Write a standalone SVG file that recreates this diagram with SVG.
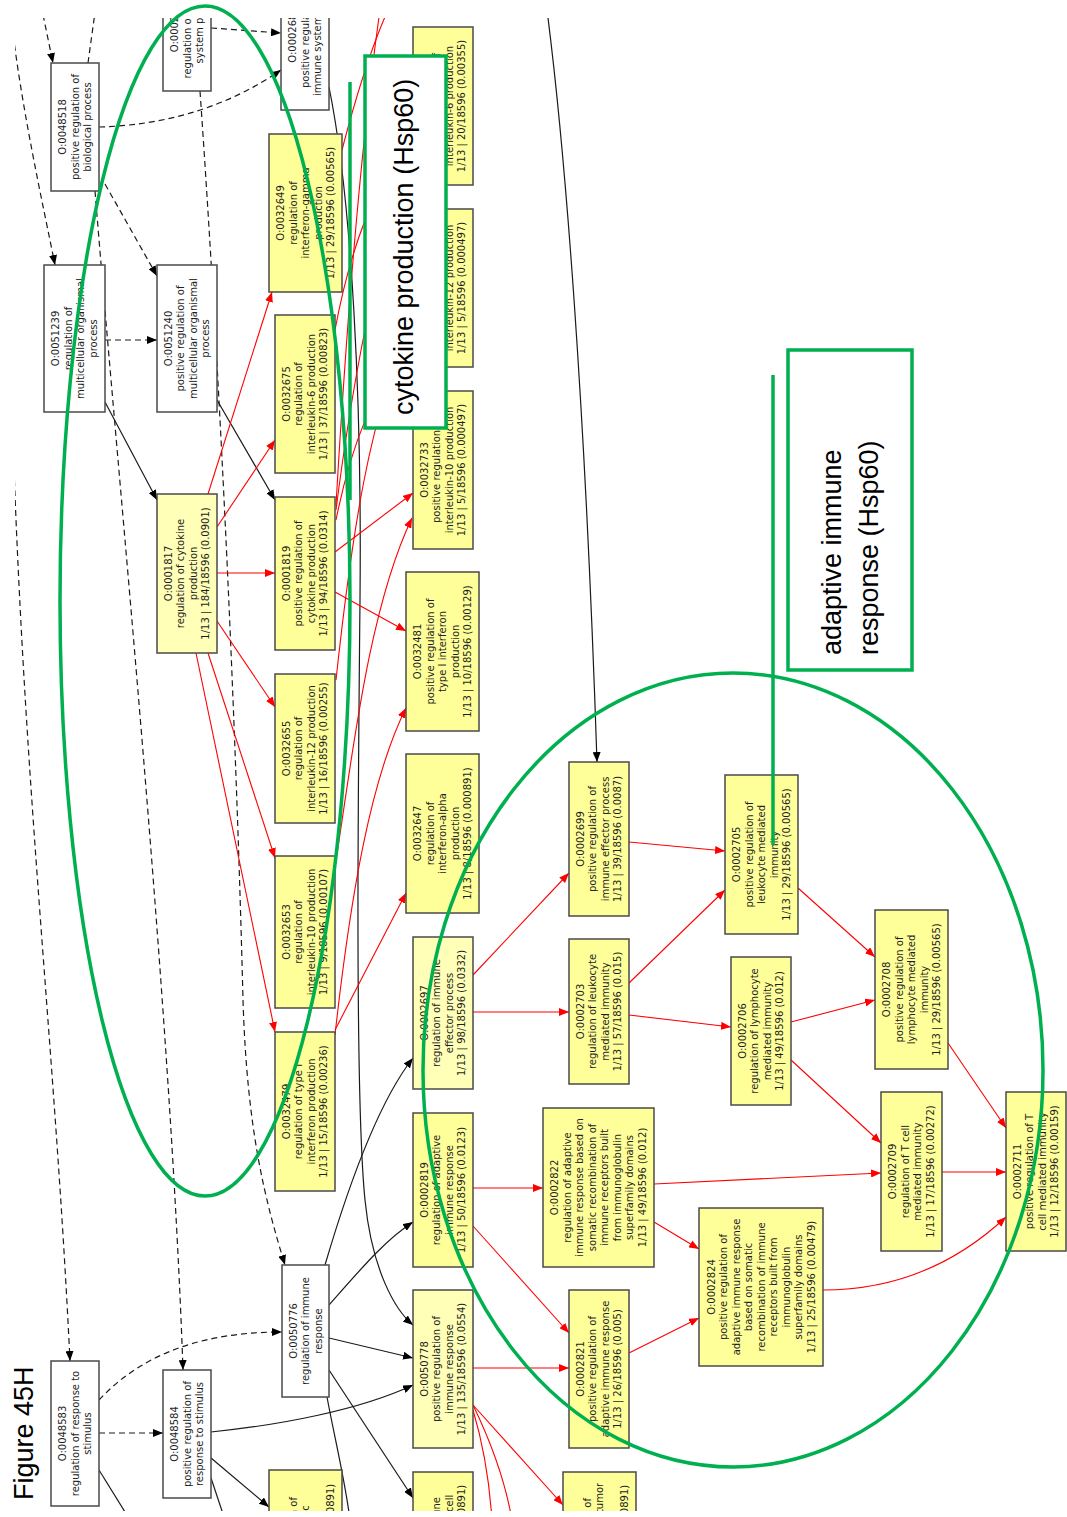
<svg xmlns="http://www.w3.org/2000/svg" width="1067" height="1517" viewBox="0 0 1067 1517">
<style>
.n rect{stroke:#4a4a4a;stroke-width:1.5}
.y rect{fill:#ffff99}
.p rect{fill:#ffffb8}
.w rect{fill:#ffffff}
.n text{font-family:"DejaVu Sans",sans-serif;font-size:10px;fill:#1e1e1e;text-anchor:middle}
#edges path{fill:none}
.s{stroke:#1a1a1a;stroke-width:1.2}
.d{stroke:#1a1a1a;stroke-width:1.2;stroke-dasharray:6 4}
.r{stroke:#ff0000;stroke-width:1.1}
.g{fill:none;stroke:#00b050;stroke-width:3.5}
.gb{fill:#ffffff;stroke:#00b050;stroke-width:3.5}
.lbl{font-family:"Liberation Sans",Arial,sans-serif;font-size:27px;fill:#000}
</style>
<defs>
<marker id="ab" markerWidth="10" markerHeight="8" refX="10" refY="4" orient="auto" markerUnits="userSpaceOnUse"><path d="M0,0 L10,4 L0,8 z" fill="#000"/></marker>
<marker id="ar" markerWidth="10" markerHeight="8" refX="10" refY="4" orient="auto" markerUnits="userSpaceOnUse"><path d="M0,0 L10,4 L0,8 z" fill="#ff0000"/></marker>
<clipPath id="frame"><rect x="15" y="18" width="1052" height="1493"/></clipPath>
</defs>

<g clip-path="url(#frame)">
<!-- connectors -->
<g id="edges">
<!-- dashed: relations from unannotated ancestors -->
<path class="d" d="M41,5 L53,63" marker-end="url(#ab)"/>
<path class="d" d="M88,63 L96,5"/>
<path class="d" d="M12,25 C22,110 42,200 55,265" marker-end="url(#ab)"/>
<path class="d" d="M13,440 C25,800 55,1050 70,1361" marker-end="url(#ab)"/>
<path class="d" d="M95,191 C120,500 170,1000 183,1370" marker-end="url(#ab)"/>
<path class="d" d="M105,184 L157,276" marker-end="url(#ab)"/>
<path class="d" d="M105,340 L157,340" marker-end="url(#ab)"/>
<path class="d" d="M99,127 C170,125 230,105 281,70" marker-end="url(#ab)"/>
<path class="d" d="M211,28 L281,33" marker-end="url(#ab)"/>
<path class="d" d="M200,91 C225,450 238,800 243,1000 C247,1130 265,1200 285,1265" marker-end="url(#ab)"/>
<path class="d" d="M99,1433 L163,1433" marker-end="url(#ab)"/>
<path class="d" d="M99,1400 C150,1345 220,1332 282,1332" marker-end="url(#ab)"/>
<!-- solid black -->
<path class="s" d="M105,402 L157,500" marker-end="url(#ab)"/>
<path class="s" d="M217,400 L275,500" marker-end="url(#ab)"/>
<path class="s" d="M329,87 C352,200 362,400 360,600 C358,800 355,1100 365,1200 C372,1270 395,1310 413,1325" marker-end="url(#ab)"/>
<path class="s" d="M547,10 C565,150 585,400 597,762" marker-end="url(#ab)"/>
<path class="s" d="M325,1265 C350,1180 380,1100 413,1058" marker-end="url(#ab)"/>
<path class="s" d="M329,1305 C360,1270 385,1240 413,1222" marker-end="url(#ab)"/>
<path class="s" d="M329,1338 L413,1358" marker-end="url(#ab)"/>
<path class="s" d="M329,1370 L413,1498" marker-end="url(#ab)"/>
<path class="s" d="M327,1397 C335,1440 345,1480 350,1520"/>
<path class="s" d="M211,1432 C280,1425 360,1410 413,1385" marker-end="url(#ab)"/>
<path class="s" d="M211,1458 L269,1507" marker-end="url(#ab)"/>
<path class="s" d="M211,1478 L225,1520"/>
<path class="s" d="M99,1470 L130,1520"/>
<!-- red: significant path -->
<path class="r" d="M208,494 L272,292" marker-end="url(#ar)"/>
<path class="r" d="M217,527 L275,440" marker-end="url(#ar)"/>
<path class="r" d="M217,573 L275,573" marker-end="url(#ar)"/>
<path class="r" d="M217,621 L275,707" marker-end="url(#ar)"/>
<path class="r" d="M208,653 L275,858" marker-end="url(#ar)"/>
<path class="r" d="M196,653 L275,1032" marker-end="url(#ar)"/>
<path class="r" d="M342,150 C355,100 370,50 388,10"/>
<path class="r" d="M336,505 C345,350 360,150 380,10"/>
<path class="r" d="M335,330 C350,250 375,180 413,140" marker-end="url(#ar)"/>
<path class="r" d="M336,510 C350,400 375,250 413,160" marker-end="url(#ar)"/>
<path class="r" d="M336,520 C350,450 375,380 413,345" marker-end="url(#ar)"/>
<path class="r" d="M336,680 C350,550 370,400 413,330" marker-end="url(#ar)"/>
<path class="r" d="M335,552 L413,493" marker-end="url(#ar)"/>
<path class="r" d="M335,592 L406,631" marker-end="url(#ar)"/>
<path class="r" d="M336,860 C352,760 368,610 412,518" marker-end="url(#ar)"/>
<path class="r" d="M335,1035 C350,900 370,780 406,708" marker-end="url(#ar)"/>
<path class="r" d="M335,1030 L406,893" marker-end="url(#ar)"/>
<path class="r" d="M473,975 L569,873" marker-end="url(#ar)"/>
<path class="r" d="M473,1012 L569,1012" marker-end="url(#ar)"/>
<path class="r" d="M629,842 L725,851" marker-end="url(#ar)"/>
<path class="r" d="M629,983 L725,890" marker-end="url(#ar)"/>
<path class="r" d="M629,1015 L731,1027" marker-end="url(#ar)"/>
<path class="r" d="M798,888 L875,957" marker-end="url(#ar)"/>
<path class="r" d="M791,1022 L875,1000" marker-end="url(#ar)"/>
<path class="r" d="M791,1060 L881,1143" marker-end="url(#ar)"/>
<path class="r" d="M948,1043 L1006,1128" marker-end="url(#ar)"/>
<path class="r" d="M942,1172 L1006,1172" marker-end="url(#ar)"/>
<path class="r" d="M654,1184 L881,1173" marker-end="url(#ar)"/>
<path class="r" d="M654,1222 L699,1249" marker-end="url(#ar)"/>
<path class="r" d="M823,1290 C900,1290 960,1260 1006,1217" marker-end="url(#ar)"/>
<path class="r" d="M629,1353 L699,1318" marker-end="url(#ar)"/>
<path class="r" d="M473,1188 L543,1188" marker-end="url(#ar)"/>
<path class="r" d="M473,1226 L569,1333" marker-end="url(#ar)"/>
<path class="r" d="M473,1368 L569,1368" marker-end="url(#ar)"/>
<path class="r" d="M473,1405 L563,1505" marker-end="url(#ar)"/>
<path class="r" d="M473,1405 C490,1440 505,1480 512,1520"/>
<path class="r" d="M473,1410 C485,1450 490,1490 492,1520"/>
</g>

<!-- GO term nodes, drawn rotated so their labels read upwards -->
<g id="n0048518" class="n w" transform="translate(75,127) rotate(-90)"><rect x="-64" y="-24" width="128" height="48"/><text y="-9">O:0048518</text><text y="3.5">positive regulation of</text><text y="16">biological process</text></g>
<g id="n0002682" class="n w" transform="translate(187,24.5) rotate(-90)"><rect x="-66.5" y="-24" width="133" height="48"/><text y="-9">O:0002682</text><text y="3.5">regulation of immune</text><text y="16">system process</text></g>
<g id="n0002684" class="n w" transform="translate(305,35) rotate(-90)"><rect x="-75" y="-24" width="150" height="48"/><text y="-9">O:0002684</text><text y="3.5">positive regulation of</text><text y="16">immune system process</text></g>
<g id="n0051239" class="n w" transform="translate(74.5,338.5) rotate(-90)"><rect x="-73.5" y="-30.5" width="147" height="61"/><text y="-15.25">O:0051239</text><text y="-2.75">regulation of</text><text y="9.75">multicellular organismal</text><text y="22.25">process</text></g>
<g id="n0051240" class="n w" transform="translate(187,338.5) rotate(-90)"><rect x="-73.5" y="-30" width="147" height="60"/><text y="-15.25">O:0051240</text><text y="-2.75">positive regulation of</text><text y="9.75">multicellular organismal</text><text y="22.25">process</text></g>
<g id="n0001817" class="n p" transform="translate(187,573.5) rotate(-90)"><rect x="-79.5" y="-30" width="159" height="60"/><text y="-15.25">O:0001817</text><text y="-2.75">regulation of cytokine</text><text y="9.75">production</text><text y="22.25">1/13 | 184/18596 (0.0901)</text></g>
<g id="n0032649" class="n y" transform="translate(305.5,213) rotate(-90)"><rect x="-79" y="-36.5" width="158" height="73"/><text y="-21.5">O:0032649</text><text y="-9">regulation of</text><text y="3.5">interferon-gamma</text><text y="16">production</text><text y="28.5">1/13 | 29/18596 (0.00565)</text></g>
<g id="n0032675" class="n y" transform="translate(305,394) rotate(-90)"><rect x="-79" y="-30" width="158" height="60"/><text y="-15.25">O:0032675</text><text y="-2.75">regulation of</text><text y="9.75">interleukin-6 production</text><text y="22.25">1/13 | 37/18596 (0.00823)</text></g>
<g id="n0001819" class="n y" transform="translate(305,573.5) rotate(-90)"><rect x="-76.5" y="-30" width="153" height="60"/><text y="-15.25">O:0001819</text><text y="-2.75">positive regulation of</text><text y="9.75">cytokine production</text><text y="22.25">1/13 | 94/18596 (0.0314)</text></g>
<g id="n0032655" class="n y" transform="translate(305,748.5) rotate(-90)"><rect x="-74.5" y="-30" width="149" height="60"/><text y="-15.25">O:0032655</text><text y="-2.75">regulation of</text><text y="9.75">interleukin-12 production</text><text y="22.25">1/13 | 16/18596 (0.00255)</text></g>
<g id="n0032653" class="n y" transform="translate(305,932) rotate(-90)"><rect x="-76" y="-30" width="152" height="60"/><text y="-15.25">O:0032653</text><text y="-2.75">regulation of</text><text y="9.75">interleukin-10 production</text><text y="22.25">1/13 | 9/18596 (0.00107)</text></g>
<g id="n0032479" class="n y" transform="translate(305,1111.5) rotate(-90)"><rect x="-79.5" y="-30" width="159" height="60"/><text y="-15.25">O:0032479</text><text y="-2.75">regulation of type I</text><text y="9.75">interferon production</text><text y="22.25">1/13 | 15/18596 (0.00236)</text></g>
<g id="n0032755" class="n y" transform="translate(443,106) rotate(-90)"><rect x="-79" y="-30" width="158" height="60"/><text y="-15.25">O:0032755</text><text y="-2.75">positive regulation of</text><text y="9.75">interleukin-6 production</text><text y="22.25">1/13 | 20/18596 (0.00355)</text></g>
<g id="n0032735" class="n y" transform="translate(443,288) rotate(-90)"><rect x="-79" y="-30" width="158" height="60"/><text y="-15.25">O:0032735</text><text y="-2.75">positive regulation of</text><text y="9.75">interleukin-12 production</text><text y="22.25">1/13 | 5/18596 (0.000497)</text></g>
<g id="n0032733" class="n y" transform="translate(443,470) rotate(-90)"><rect x="-79" y="-30" width="158" height="60"/><text y="-15.25">O:0032733</text><text y="-2.75">positive regulation of</text><text y="9.75">interleukin-10 production</text><text y="22.25">1/13 | 5/18596 (0.000497)</text></g>
<g id="n0032481" class="n y" transform="translate(442.5,651.5) rotate(-90)"><rect x="-79.5" y="-36.5" width="159" height="73"/><text y="-21.5">O:0032481</text><text y="-9">positive regulation of</text><text y="3.5">type I interferon</text><text y="16">production</text><text y="28.5">1/13 | 10/18596 (0.00129)</text></g>
<g id="n0032647" class="n y" transform="translate(442.5,833.5) rotate(-90)"><rect x="-79.5" y="-36.5" width="159" height="73"/><text y="-21.5">O:0032647</text><text y="-9">regulation of</text><text y="3.5">interferon-alpha</text><text y="16">production</text><text y="28.5">1/13 | 8/18596 (0.000891)</text></g>
<g id="n0002697" class="n p" transform="translate(443,1013) rotate(-90)"><rect x="-76" y="-30" width="152" height="60"/><text y="-15.25">O:0002697</text><text y="-2.75">regulation of immune</text><text y="9.75">effector process</text><text y="22.25">1/13 | 98/18596 (0.0332)</text></g>
<g id="n0002819" class="n y" transform="translate(443,1190) rotate(-90)"><rect x="-77" y="-30" width="154" height="60"/><text y="-15.25">O:0002819</text><text y="-2.75">regulation of adaptive</text><text y="9.75">immune response</text><text y="22.25">1/13 | 50/18596 (0.0123)</text></g>
<g id="n0050778" class="n p" transform="translate(443,1369) rotate(-90)"><rect x="-79" y="-30" width="158" height="60"/><text y="-15.25">O:0050778</text><text y="-2.75">positive regulation of</text><text y="9.75">immune response</text><text y="22.25">1/13 | 135/18596 (0.0554)</text></g>
<g id="n0050776" class="n w" transform="translate(305.5,1331) rotate(-90)"><rect x="-66" y="-23.5" width="132" height="47"/><text y="-9">O:0050776</text><text y="3.5">regulation of immune</text><text y="16">response</text></g>
<g id="n0048583" class="n w" transform="translate(75,1433.5) rotate(-90)"><rect x="-72.5" y="-24" width="145" height="48"/><text y="-9">O:0048583</text><text y="3.5">regulation of response to</text><text y="16">stimulus</text></g>
<g id="n0048584" class="n w" transform="translate(187,1434) rotate(-90)"><rect x="-64" y="-24" width="128" height="48"/><text y="-9">O:0048584</text><text y="3.5">positive regulation of</text><text y="16">response to stimulus</text></g>
<g id="n0002699" class="n y" transform="translate(599,839) rotate(-90)"><rect x="-77" y="-30" width="154" height="60"/><text y="-15.25">O:0002699</text><text y="-2.75">positive regulation of</text><text y="9.75">immune effector process</text><text y="22.25">1/13 | 39/18596 (0.0087)</text></g>
<g id="n0002703" class="n y" transform="translate(599,1011.5) rotate(-90)"><rect x="-72.5" y="-30" width="145" height="60"/><text y="-15.25">O:0002703</text><text y="-2.75">regulation of leukocyte</text><text y="9.75">mediated immunity</text><text y="22.25">1/13 | 57/18596 (0.015)</text></g>
<g id="n0002822" class="n y" transform="translate(598.5,1187.5) rotate(-90)"><rect x="-79.5" y="-55.5" width="159" height="111"/><text y="-40.25">O:0002822</text><text y="-27.75">regulation of adaptive</text><text y="-15.25">immune response based on</text><text y="-2.75">somatic recombination of</text><text y="9.75">immune receptors built</text><text y="22.25">from immunoglobulin</text><text y="34.75">superfamily domains</text><text y="47.25">1/13 | 49/18596 (0.012)</text></g>
<g id="n0002821" class="n y" transform="translate(599,1369) rotate(-90)"><rect x="-79" y="-30" width="158" height="60"/><text y="-15.25">O:0002821</text><text y="-2.75">positive regulation of</text><text y="9.75">adaptive immune response</text><text y="22.25">1/13 | 26/18596 (0.005)</text></g>
<g id="n0002705" class="n y" transform="translate(761.5,854.5) rotate(-90)"><rect x="-79.5" y="-36.5" width="159" height="73"/><text y="-21.5">O:0002705</text><text y="-9">positive regulation of</text><text y="3.5">leukocyte mediated</text><text y="16">immunity</text><text y="28.5">1/13 | 29/18596 (0.00565)</text></g>
<g id="n0002706" class="n y" transform="translate(761,1031) rotate(-90)"><rect x="-74" y="-30" width="148" height="60"/><text y="-15.25">O:0002706</text><text y="-2.75">regulation of lymphocyte</text><text y="9.75">mediated immunity</text><text y="22.25">1/13 | 49/18596 (0.012)</text></g>
<g id="n0002824" class="n y" transform="translate(761,1287) rotate(-90)"><rect x="-79" y="-62" width="158" height="124"/><text y="-46.5">O:0002824</text><text y="-34">positive regulation of</text><text y="-21.5">adaptive immune response</text><text y="-9">based on somatic</text><text y="3.5">recombination of immune</text><text y="16">receptors built from</text><text y="28.5">immunoglobulin</text><text y="41">superfamily domains</text><text y="53.5">1/13 | 25/18596 (0.00479)</text></g>
<g id="n0002708" class="n y" transform="translate(911.5,989.5) rotate(-90)"><rect x="-79.5" y="-36.5" width="159" height="73"/><text y="-21.5">O:0002708</text><text y="-9">positive regulation of</text><text y="3.5">lymphocyte mediated</text><text y="16">immunity</text><text y="28.5">1/13 | 29/18596 (0.00565)</text></g>
<g id="n0002709" class="n y" transform="translate(911.5,1171.5) rotate(-90)"><rect x="-79.5" y="-30.5" width="159" height="61"/><text y="-15.25">O:0002709</text><text y="-2.75">regulation of T cell</text><text y="9.75">mediated immunity</text><text y="22.25">1/13 | 17/18596 (0.00272)</text></g>
<g id="n0002711" class="n y" transform="translate(1036,1171.5) rotate(-90)"><rect x="-79.5" y="-30" width="159" height="60"/><text y="-15.25">O:0002711</text><text y="-2.75">positive regulation of T</text><text y="9.75">cell mediated immunity</text><text y="22.25">1/13 | 12/18596 (0.00159)</text></g>
<g id="n0002833" class="n y" transform="translate(305.5,1550) rotate(-90)"><rect x="-80" y="-36.5" width="160" height="73"/><text y="-21.5">O:0002833</text><text y="-9">positive regulation of</text><text y="3.5">response to biotic</text><text y="16">stimulus</text><text y="28.5">1/13 | 8/18596 (0.000891)</text></g>
<g id="n0002837" class="n y" transform="translate(443,1551) rotate(-90)"><rect x="-79" y="-30" width="158" height="60"/><text y="-15.25">O:0002837</text><text y="-2.75">regulation of immune</text><text y="9.75">response to tumor cell</text><text y="22.25">1/13 | 8/18596 (0.000891)</text></g>
<g id="n0002839" class="n y" transform="translate(599.5,1551) rotate(-90)"><rect x="-79" y="-36.5" width="158" height="73"/><text y="-21.5">O:0002839</text><text y="-9">positive regulation of</text><text y="3.5">immune response to tumor</text><text y="16">cell</text><text y="28.5">1/13 | 8/18596 (0.000891)</text></g>
</g>

<!-- hand-drawn callouts -->
<g id="callouts">
<ellipse class="g" cx="205" cy="601" rx="145" ry="595"/>
<ellipse class="g" cx="733" cy="1070" rx="310" ry="397"/>
<path class="g" d="M350,82 L350,500"/>
<rect class="gb" x="365" y="56" width="81" height="372"/>
<text class="lbl" transform="translate(413,415) rotate(-90)">cytokine production (Hsp60)</text>
<path class="g" d="M773,375 L773,845"/>
<rect class="gb" x="788" y="350" width="124" height="320"/>
<text class="lbl" transform="translate(841,655) rotate(-90)">adaptive immune</text>
<text class="lbl" transform="translate(878,655) rotate(-90)">response (Hsp60)</text>
</g>

<text id="figure-label" class="lbl" transform="translate(33,1500) rotate(-90)">Figure 45H</text>
</svg>
